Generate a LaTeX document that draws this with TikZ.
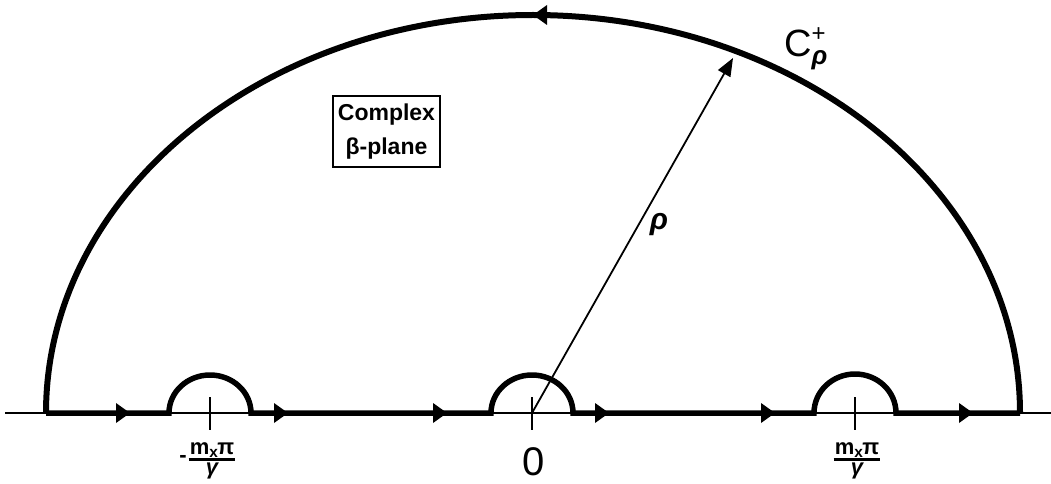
\documentclass[tikz,border=0pt]{standalone}
\usepackage{fontspec}
\setmainfont{Liberation Sans}
\usetikzlibrary{arrows.meta}
\begin{document}
\begin{tikzpicture}[x=1pt,y=1pt,
  contour/.style={line width=5.5pt, line join=miter},
  bigarc/.style={line width=6pt},
  thinline/.style={line width=1.8pt},
  tickline/.style={line width=1.6pt},
  headfill/.style={fill=black},
  radiusline/.style={line width=1.8pt, -{Triangle[length=18pt,width=14pt]}},
  planebox/.style={draw, line width=1.8pt, inner xsep=5pt, inner ysep=8pt, align=center,
    font=\fontsize{23}{34}\selectfont\bfseries},
  lbl/.style={inner sep=0pt},
  numer/.style={inner sep=1pt, font=\fontsize{22}{22}\selectfont\bfseries},
  denom/.style={inner sep=0pt, font=\fontsize{22}{22}\selectfont\bfseries\itshape},
  fracbar/.style={line width=2.6pt}]
\useasboundingbox (0,0) rectangle (1051,483);

% key points
\coordinate (O) at (532,70);
\coordinate (Lc) at (210,70);
\coordinate (Rc) at (855,70);
\coordinate (Bl) at (46,70);
\coordinate (Br) at (1020,70);
\coordinate (Ax0) at (5,70);
\coordinate (Ax1) at (1051,70);
\coordinate (Tip) at (733,425);

% real axis
\draw[thinline] (Ax0) -- (Ax1);

% ticks
\foreach \c in {Lc,O,Rc}
  \draw[tickline] ([yshift=16pt]\c) -- ([yshift=-17pt]\c);

% contour along the axis with indentations
\draw[contour] (Bl) -- (169,70) arc[start angle=180,end angle=0,x radius=41,y radius=38]
  -- (491,70) arc[start angle=180,end angle=0,x radius=41,y radius=38]
  -- (814,70) arc[start angle=180,end angle=0,x radius=41,y radius=39]
  -- (Br);
\draw[bigarc] (Br) arc[start angle=0,end angle=180,x radius=487,y radius=398] -- (Bl);

% direction arrowheads on the real axis
\foreach \x in {130,288,447,609,775,973}
  \fill[headfill] (\x,70) -- (\x-14,80) -- (\x-14,60) -- cycle;
% arrowhead on the big arc (pointing left)
\fill[headfill] (533,468) -- (547,478) -- (547,458) -- cycle;

% radius
\draw[radiusline] (O) -- (Tip);

% labels
\node[lbl, font=\fontsize{30}{30}\selectfont\bfseries\itshape] (rho) at (659,258) {ρ};
\node[lbl, font=\fontsize{38}{38}\selectfont, anchor=west] (Cr) at (784,434)
  {C\rlap{\raisebox{15pt}{\fontsize{24}{24}\selectfont +}}\raisebox{-8pt}{\fontsize{26}{26}\selectfont\bfseries\itshape ρ}};
\node[planebox, anchor=north west] (box) at (332,388) {Complex\\β-plane};
\node[lbl, font=\fontsize{40}{40}\selectfont] (zero) at (534,21) {0};

% -m_x pi / gamma
\node[numer] (fln) at (212,33) {m\textsubscript{x}\hspace{-1pt}π};
\draw[fracbar] ([yshift=-1pt]fln.south west) -- ([yshift=-1pt]fln.south east);
\node[denom] (fld) at (212,12) {γ};
\node[lbl, font=\fontsize{22}{22}\selectfont\bfseries] (minus) at (183,24) {-};

% m_x pi / gamma
\node[numer] (frn) at (857,33) {m\textsubscript{x}\hspace{-1pt}π};
\draw[fracbar] ([yshift=-1pt]frn.south west) -- ([yshift=-1pt]frn.south east);
\node[denom] (frd) at (857,12) {γ};
\end{tikzpicture}
\end{document}
